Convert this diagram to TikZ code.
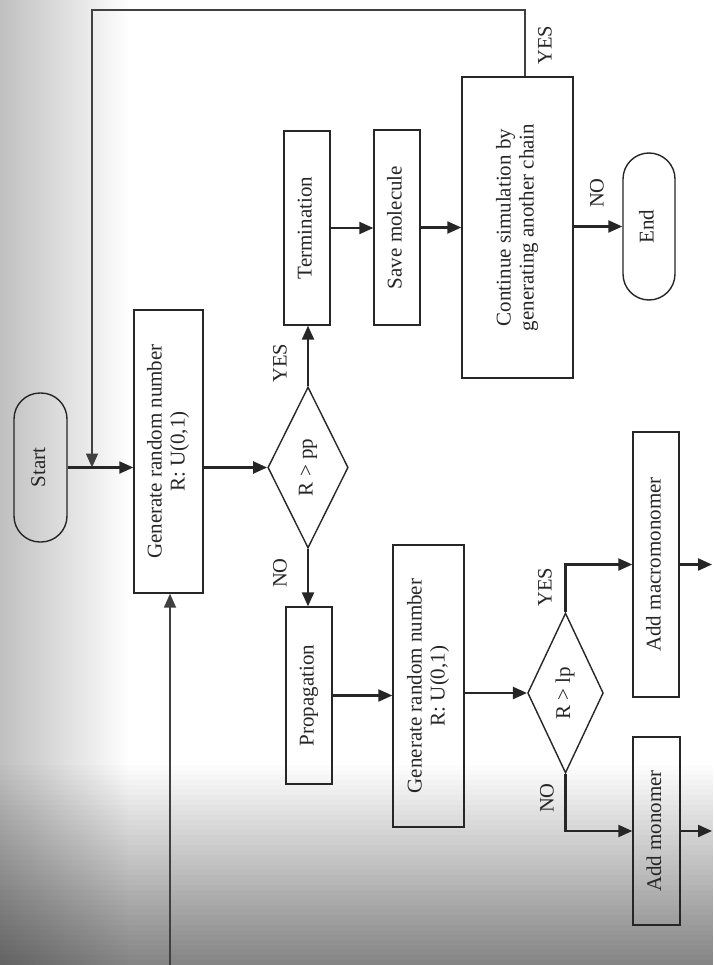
\documentclass[tikz,border=0pt]{standalone}
\usepackage{fontspec}
\setmainfont{Liberation Serif}
\usetikzlibrary{shapes.geometric,arrows.meta}
\newcommand{\vtxt}[1]{\rotatebox{90}{\begin{tabular}{@{}c@{}}#1\end{tabular}}}
\begin{document}
\begin{tikzpicture}[x=1pt,y=-1pt,
  box/.style={draw=black!85, line width=1.4pt, inner sep=0pt, text=black!85,
    font=\fontsize{21}{23}\selectfont},
  stadium/.style={box, rounded corners=26pt},
  decision/.style={box, diamond},
  arr/.style={draw=black!85, line width=2.2pt, -{Triangle[length=14pt,width=12pt]}},
  loopln/.style={arr, draw=black!75, line width=1.8pt},
  lab/.style={rotate=90, text=black!85, font=\fontsize{20.5}{23}\selectfont}]
\useasboundingbox (0,0) rectangle (713,965);
% scanned-paper background
\fill[white] (0,0) rectangle (713,965);
\shade[left color=black!25, right color=white] (0,0) rectangle (130,965);
\foreach \i in {0,...,40}{
  \fill[black, fill opacity={0.012*\i}] (0,{760+5*\i}) rectangle (713,{765+5*\i});
}

% nodes
\node[stadium, minimum width=53pt, minimum height=149pt] (start) at (40.5,467.5) {\vtxt{Start}};
\node[box, minimum width=69pt, minimum height=283pt] (gen1) at (168.5,451.5) {\vtxt{Generate random number\\R: U(0,1)}};
\node[decision, minimum width=74pt, minimum height=161pt] (d1) at (308,467.5) {\vtxt{R > pp}};
\node[box, minimum width=46pt, minimum height=194pt] (term) at (307,228) {\vtxt{Termination}};
\node[box, minimum width=46pt, minimum height=177pt] (prop) at (309,695.5) {\vtxt{Propagation}};
\node[box, minimum width=46pt, minimum height=195pt] (save) at (397,227.5) {\vtxt{Save molecule}};
\node[box, minimum width=111pt, minimum height=301pt] (cont) at (517.5,227.5) {\vtxt{Continue simulation by\\generating another chain}};
\node[stadium, minimum width=52pt, minimum height=147pt] (end) at (649,226.5) {\vtxt{End}};
\node[box, minimum width=71pt, minimum height=282pt] (gen2) at (428.5,686) {\vtxt{Generate random number\\R: U(0,1)}};
\node[decision, minimum width=75pt, minimum height=160pt] (d2) at (565.5,693) {\vtxt{R > lp}};
\node[box, minimum width=46pt, minimum height=265pt] (macro) at (656,564.5) {\vtxt{Add macromonomer}};
\node[box, minimum width=47pt, minimum height=188pt] (mono) at (656.5,831) {\vtxt{Add monomer}};

% free ends
\coordinate (tr) at (525,10);
\coordinate (tl) at (92,10);
\coordinate (lb) at (170,965);
\coordinate (o1) at (712,564.5);
\coordinate (o2) at (712,831);

% connectors
\draw[loopln] (cont.north -| tr) -- (tr) -- (tl) -- (tl |- start.east);
\draw[loopln] (lb) -- (lb |- gen1.south);
\draw[arr] (start.east) -- (start.east -| gen1.west);
\draw[arr] (gen1.east |- d1.west) -- (d1.west);
\draw[arr] (d1.north) -- (d1.north |- term.south);
\draw[arr] (d1.south) -- (d1.south |- prop.north);
\draw[arr] (term.east) -- (term.east -| save.west);
\draw[arr] (save.east) -- (save.east -| cont.west);
\draw[arr] (cont.east |- end.west) -- (end.west);
\draw[arr] (prop.east) -- (prop.east -| gen2.west);
\draw[arr] (gen2.east |- d2.west) -- (d2.west);
\draw[arr] (d2.north) |- (macro.west);
\draw[arr] (d2.south) |- (mono.west);
\draw[arr] (macro.east) -- (o1);
\draw[arr] (mono.east) -- (o2);

% labels
\node[lab] (l1) at (280,363) {YES};
\node[lab] (l2) at (280,573) {NO};
\node[lab] (l3) at (597,193) {NO};
\node[lab] (l4) at (545,45) {YES};
\node[lab] (l5) at (545,587) {YES};
\node[lab] (l6) at (547,798) {NO};
\end{tikzpicture}
\end{document}
